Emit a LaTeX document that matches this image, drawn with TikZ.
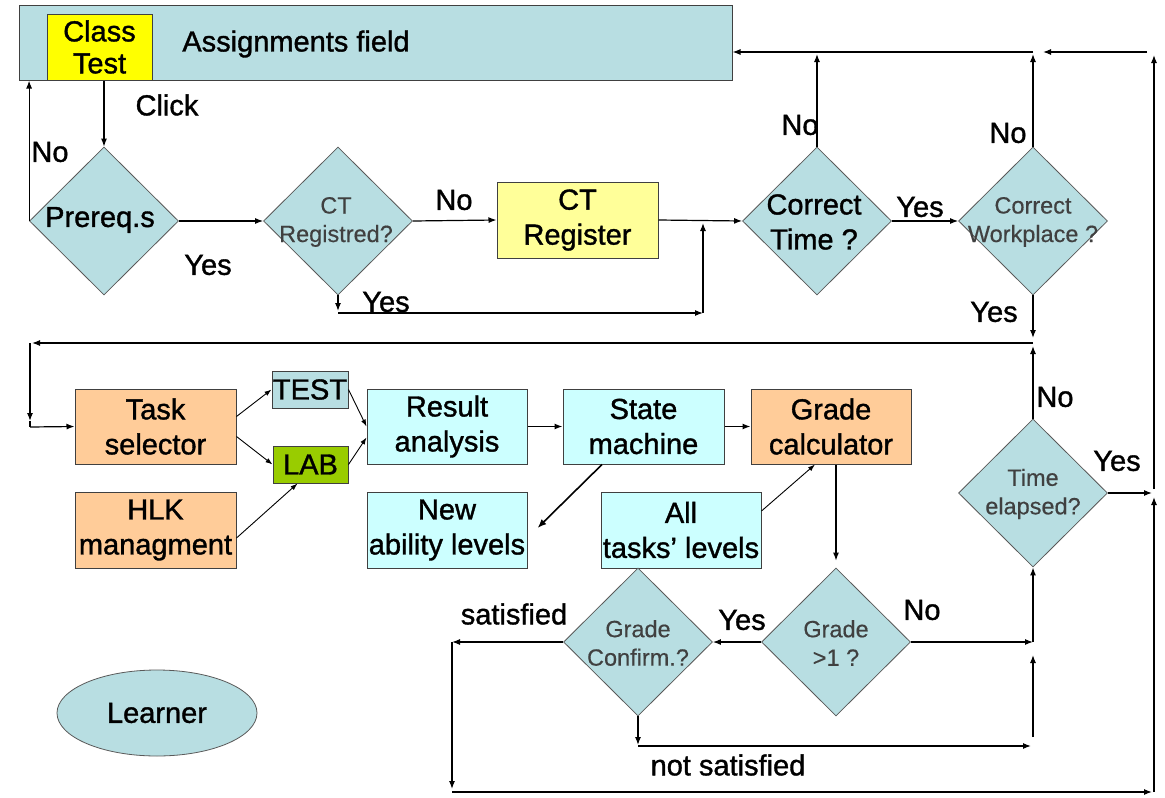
\documentclass[tikz,border=0pt]{standalone}
\usepackage{fontspec}
\setmainfont{Liberation Sans}[FakeBold=1.2]
\newfontfamily\smallfam{Liberation Sans}[FakeBold=0.4]
\usetikzlibrary{shapes.geometric,arrows.meta,calc}
\definecolor{dblue}{RGB}{184,222,226}
\definecolor{cyanl}{RGB}{204,255,255}
\definecolor{peach}{RGB}{255,204,153}
\definecolor{lyel}{RGB}{255,255,153}
\definecolor{yel}{RGB}{255,255,0}
\definecolor{labg}{RGB}{153,204,0}
\begin{document}
\begin{tikzpicture}[x=1pt,y=-1pt,
  every node/.style={font=\fontsize{29}{35}\selectfont, align=center, inner sep=0pt},
  box/.style={draw=black!75, line width=1pt, rectangle},
  dia/.style={draw=black!65, line width=0.8pt, diamond, fill=dblue, minimum width=149pt, minimum height=148pt},
  small/.style={font=\smallfam\fontsize{23.5}{28.5}\selectfont, text=black!75},
  conn/.style={line width=1.2pt, -{Latex[length=8pt,width=6pt]}},
  thinconn/.style={line width=0.9pt, -{Latex[length=7pt,width=5pt]}},
  plain/.style={line width=1.2pt}
]
\useasboundingbox (0,0) rectangle (1165,798);
\fill[white] (0,0) rectangle (1165,798);

% top field
\node[box, fill=dblue, minimum width=713pt, minimum height=75pt] (assign) at (375.5,42.5) {};
\node[box, fill=yel, minimum width=105pt, minimum height=66pt] (classtest) at (99.5,47) {Class\\[-3pt]Test};
\node (assigntxt) at (296,44) {Assignments field};

% first row
\node[dia] (prereq) at (104,221) {};
\node (prereqtxt) at (100,220) {Prereq.s};
\node[dia] (ctreg) at (338,221) {};
\node[small] (ctregtxt) at (336,222) {CT\\Registred?};
\node[box, fill=lyel, minimum width=161pt, minimum height=76pt] (ctregister) at (577.5,220) {CT\\Register};
\node[dia] (ctime) at (817,221) {};
\node (ctimetxt) at (814,222) {Correct\\Time ?};
\node[dia] (cw) at (1033,221) {};
\node[small] (cwtxt) at (1033,222) {Correct\\Workplace ?};

% second row
\node[box, fill=peach, minimum width=161pt, minimum height=75pt] (task) at (155.5,426.5) {Task\\selector};
\node[box, fill=dblue, minimum width=76pt, minimum height=37pt] (test) at (310,389.5) {TEST};
\node[box, fill=labg, minimum width=75pt, minimum height=37pt] (lab) at (310.5,464.5) {LAB};
\node[box, fill=peach, minimum width=161pt, minimum height=76pt] (hlk) at (155.5,530) {HLK\\managment};
\node[box, fill=cyanl, minimum width=160pt, minimum height=75pt] (result) at (447,426.5) {Result\\analysis};
\node[box, fill=cyanl, minimum width=161pt, minimum height=75pt] (state) at (643.5,426.5) {State\\machine};
\node[box, fill=peach, minimum width=160pt, minimum height=75pt] (grade) at (831,426.5) {Grade\\calculator};
\node[box, fill=cyanl, minimum width=160pt, minimum height=76pt] (newab) at (447,530) {New\\ability levels};
\node[box, fill=cyanl, minimum width=160pt, minimum height=76pt] (alltasks) at (681,530) {All\\tasks’ levels};

\node[dia] (te) at (1033,493) {};
\node[small] (tetxt) at (1033,494) {Time\\elapsed?};
\node[dia] (g1) at (836,642) {};
\node[small] (g1txt) at (836,643) {Grade\\>1 ?};
\node[dia] (gc) at (638,642) {};
\node[small] (gctxt) at (638,643) {Grade\\Confirm.?};

\node[ellipse, draw=black!65, line width=0.8pt, fill=dblue, minimum width=200pt, minimum height=86pt] (learner) at (157,713) {Learner};

% labels
\node (lclick) at (167,105) {Click};
\node (lno1) at (50,152) {No};
\node (lyes1) at (208,265) {Yes};
\node (lno2) at (454,200) {No};
\node (lyes2) at (386,302) {Yes};
\node (lno3) at (800,125) {No};
\node (lyes3) at (920,207) {Yes};
\node (lno4) at (1008,133) {No};
\node (lyes4) at (994,312) {Yes};
\node (lno5) at (1055,397) {No};
\node (lyes5) at (1117,461) {Yes};
\node (lsat) at (514,614) {satisfied};
\node (lyes6) at (742,620) {Yes};
\node (lno6) at (922,610) {No};
\node (lnsat) at (728,765) {not satisfied};

% coordinates
\coordinate (ya1) at (338,311);
\coordinate (ya) at (338,313);
\coordinate (yb) at (703,313);
\coordinate (yc) at (703,223);
\coordinate (ctup) at (817,54);
\coordinate (ta) at (1033,52);
\coordinate (cwup) at (1033,54);
\coordinate (tr1) at (1147,52);
\coordinate (tr2) at (1043,52);
\coordinate (rv1) at (1154,489);
\coordinate (rv2) at (1154,55);
\coordinate (rv3) at (1154,792);
\coordinate (rv4) at (1154,497);
\coordinate (cwd) at (1033,338);
\coordinate (la) at (1033,343);
\coordinate (lb) at (32,343);
\coordinate (lc) at (30,343);
\coordinate (ld) at (30,421);
\coordinate (le) at (30,427);
\coordinate (teup) at (1033,346);
\coordinate (ter) at (1152,493);
\coordinate (nr) at (1033,642);
\coordinate (nv1) at (1033,737);
\coordinate (nv2) at (1033,655);
\coordinate (gcd) at (638,745);
\coordinate (ns1) at (638,746);
\coordinate (ns2) at (1031,746);
\coordinate (sl) at (452,642);
\coordinate (sd) at (452,789);
\coordinate (sb) at (452,792);
\coordinate (sr) at (1152,792);

% connectors
\draw[conn] (classtest.south -| prereq.north) -- (prereq.north);
\draw[conn] (prereq.west) -- (prereq.west |- assign.south);
\draw[conn] (prereq.east) -- (ctreg.west);
\draw[conn] (ctreg.east) -- (ctregister.west);
\draw[conn] (ctregister.east) -- (ctime.west);
\draw[conn] (ctreg.south) -- (ya1);
\draw[conn] (ya) -- (yb);
\draw[conn] (yb) -- (yc);
\draw[conn] (ctime.north) -- (ctup);
\draw[conn] (ta) -- (assign.east |- ta);
\draw[conn] (cw.north) -- (cwup);
\draw[conn] (tr1) -- (tr2);
\draw[conn] (rv1) -- (rv2);
\draw[conn] (rv3) -- (rv4);
\draw[conn] (ctime.east) -- (cw.west);
\draw[conn] (cw.south) -- (cwd);
\draw[conn] (la) -- (lb);
\draw[conn] (lc) -- (ld);
\draw[plain] (ld) -- (le);
\draw[conn] (le) -- (task.west);
\draw[conn] (te.north) -- (teup);
\draw[conn] (te.east) -- (ter);

\draw[thinconn] ($(task.east)+(0,-10)$) -- (test.west);
\draw[thinconn] ($(task.east)+(0,10)$) -- (lab.west);
\draw[thinconn] ($(hlk.east)+(0,8)$) -- ($(lab.south)+(-13,0)$);
\draw[thinconn] (test.east) -- (result.west);
\draw[thinconn] (lab.east) -- ($(result.west)+(0,11)$);
\draw[conn] (result.east) -- (state.west);
\draw[conn] (state.east) -- (grade.west);
\draw[line width=1.6pt, -{Latex[length=9pt,width=7pt]}] ($(state.south)+(-41.5,0)$) -- ($(newab.east)+(10,-2)$);
\draw[thinconn] ($(alltasks.east)+(0,-19)$) -- ($(grade.south)+(-16,0)$);
\draw[conn] ($(grade.south)+(5,0)$) -- ($(g1.north)+(0,-7)$);
\draw[conn] (g1.west) -- (gc.east);
\draw[conn] (g1.east) -- (nr);
\draw[conn] (nr) -- (te.south);
\draw[conn] (nv1) -- (nv2);
\draw[conn] (gc.south) -- (gcd);
\draw[conn] (ns1) -- (ns2);
\draw[conn] (gc.west) -- (sl);
\draw[conn] (sl) -- (sd);
\draw[conn] (sb) -- (sr);
\end{tikzpicture}
\end{document}
